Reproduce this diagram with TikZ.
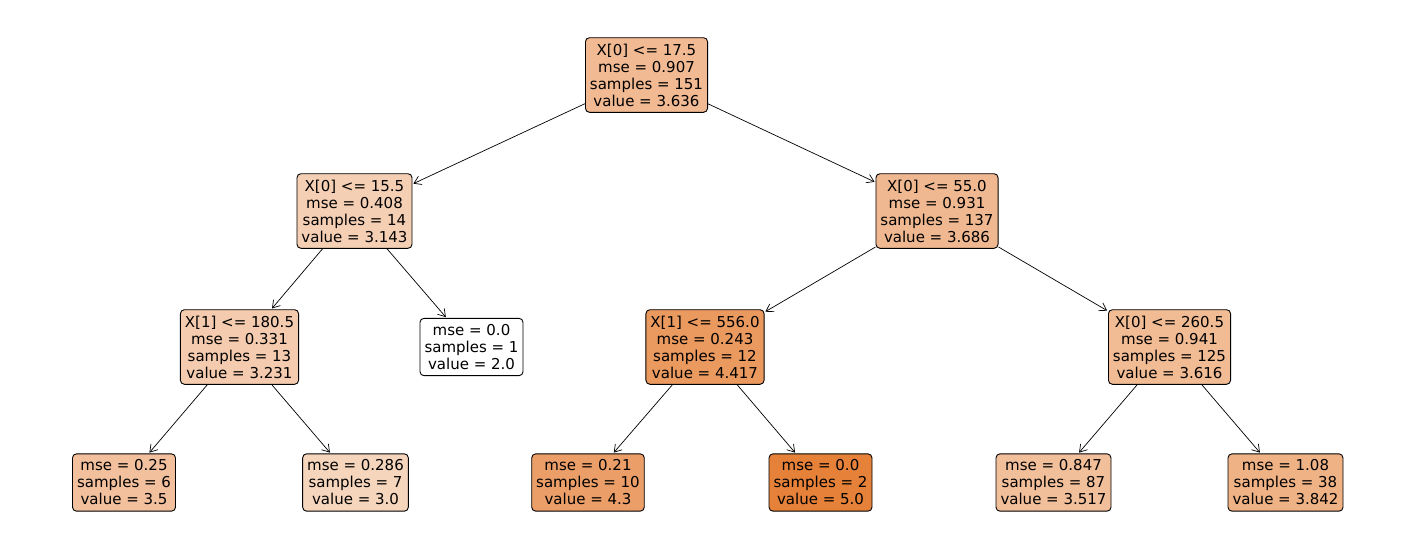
\documentclass[tikz,border=0pt]{standalone}
\usepackage{fontspec}
\setmainfont{DejaVu Sans}
\usetikzlibrary{arrows.meta}
\definecolor{leaforange}{RGB}{229,129,57}
\tikzset{
  treenode/.style={draw=black, line width=0.9pt, rounded corners=4pt, align=center,
    inner xsep=4.5pt, inner ysep=6pt, font=\fontsize{15}{17}\selectfont},
  fillv/.style={fill=leaforange!#1!white},
  edge/.style={draw=black, line width=0.7pt, -{Straight Barb[length=7pt,width=9pt,line width=0.7pt]},
    shorten >=1pt}
}
\begin{document}
\begin{tikzpicture}[x=1pt,y=-1pt]
\useasboundingbox (0,0) rectangle (1409,558);
% depth 0
\node[treenode, fillv=54.5] (n0) at (646.5,75) {X[0] <= 17.5\\mse = 0.907\\samples = 151\\value = 3.636};
% depth 1
\node[treenode, fillv=38.1] (n1) at (354.5,211) {X[0] <= 15.5\\mse = 0.408\\samples = 14\\value = 3.143};
\node[treenode, fillv=56.2] (n6) at (937,211) {X[0] <= 55.0\\mse = 0.931\\samples = 137\\value = 3.686};
% depth 2
\node[treenode, fillv=41.0] (n2) at (239.5,347) {X[1] <= 180.5\\mse = 0.331\\samples = 13\\value = 3.231};
\node[treenode, fill=white] (n5) at (471.5,347) {mse = 0.0\\samples = 1\\value = 2.0};
\node[treenode, fillv=80.6] (n7) at (705,347) {X[1] <= 556.0\\mse = 0.243\\samples = 12\\value = 4.417};
\node[treenode, fillv=53.9] (n10) at (1169.5,347) {X[0] <= 260.5\\mse = 0.941\\samples = 125\\value = 3.616};
% depth 3
\node[treenode, fillv=50.0] (n3) at (124,482.5) {mse = 0.25\\samples = 6\\value = 3.5};
\node[treenode, fillv=33.3] (n4) at (355.5,482.5) {mse = 0.286\\samples = 7\\value = 3.0};
\node[treenode, fillv=76.7] (n8) at (588,482.5) {mse = 0.21\\samples = 10\\value = 4.3};
\node[treenode, fillv=100] (n9) at (820.5,482.5) {mse = 0.0\\samples = 2\\value = 5.0};
\node[treenode, fillv=50.6] (n11) at (1053.5,482.5) {mse = 0.847\\samples = 87\\value = 3.517};
\node[treenode, fillv=61.4] (n12) at (1285.5,482.5) {mse = 1.08\\samples = 38\\value = 3.842};
% edges
\foreach \a/\b in {n0/n1, n0/n6, n1/n2, n1/n5, n6/n7, n6/n10, n2/n3, n2/n4, n7/n8, n7/n9, n10/n11, n10/n12}
  \draw[edge] (\a) -- (\b);
\end{tikzpicture}
\end{document}
